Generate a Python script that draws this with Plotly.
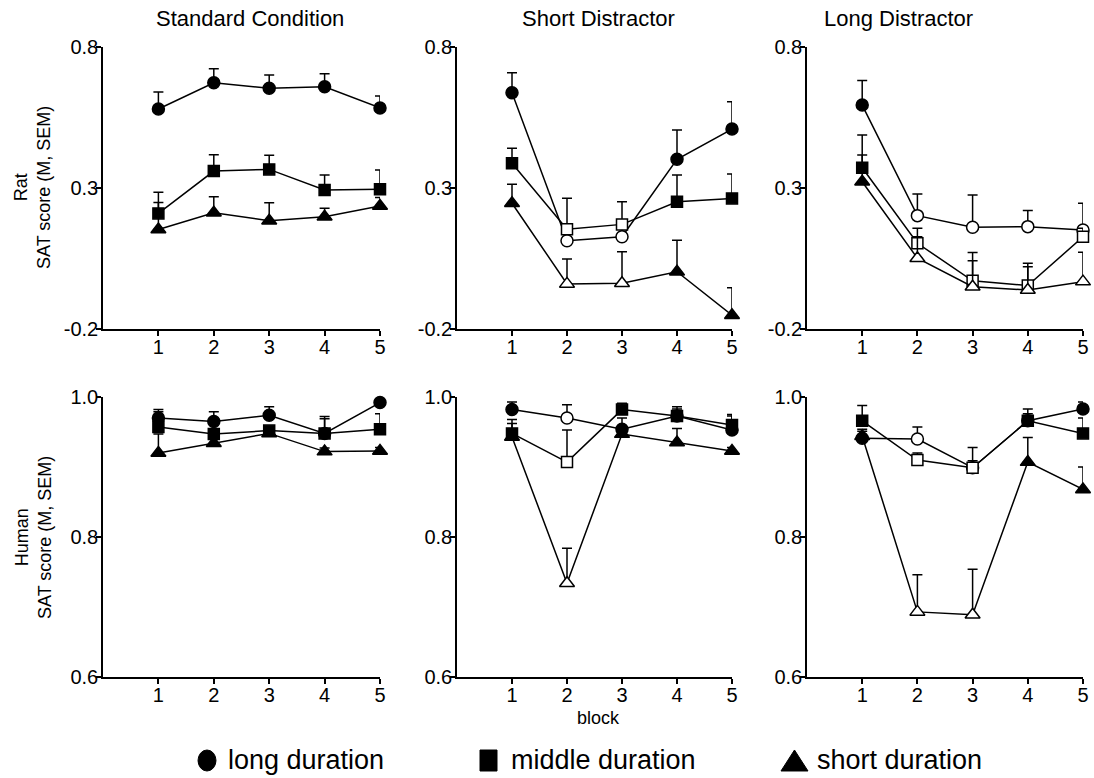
import plotly.graph_objects as go

W, H = 1094, 778

blocks = [1, 2, 3, 4, 5]
block_labels = ["1", "2", "3", "4", "5"]
column_titles = ["Standard Condition", "Short Distractor", "Long Distractor"]
row_titles = ["Rat<br>SAT score (M, SEM)", "Human<br>SAT score (M, SEM)"]
legend_labels = ["long duration", "middle duration", "short duration"]

rat_ticks = [-0.2, 0.3, 0.8]
rat_tick_text = ["-0.2", "0.3", "0.8"]
human_ticks = [0.6, 0.8, 1.0]
human_tick_text = ["0.6", "0.8", "1.0"]

# Rat, standard condition
rat_std_long = [0.580, 0.673, 0.654, 0.659, 0.584]
rat_std_long_sem = [0.060, 0.050, 0.047, 0.046, 0.042]
rat_std_middle = [0.210, 0.360, 0.366, 0.293, 0.296]
rat_std_middle_sem = [0.075, 0.058, 0.050, 0.053, 0.068]
rat_std_short = [0.153, 0.212, 0.184, 0.198, 0.236]
rat_std_short_sem = [0.096, 0.057, 0.064, 0.030, 0.030]

# Rat, short distractor
rat_sd_long = [0.638, 0.113, 0.127, 0.402, 0.509]
rat_sd_long_sem = [0.071, 0.030, 0.030, 0.104, 0.097]
rat_sd_middle = [0.388, 0.154, 0.171, 0.251, 0.263]
rat_sd_middle_sem = [0.053, 0.110, 0.080, 0.095, 0.087]
rat_sd_short = [0.246, -0.040, -0.038, 0.003, -0.151]
rat_sd_short_sem = [0.067, 0.088, 0.112, 0.112, 0.097]

# Rat, long distractor
rat_ld_long = [0.594, 0.202, 0.161, 0.163, 0.151]
rat_ld_long_sem = [0.087, 0.077, 0.114, 0.057, 0.095]
rat_ld_middle = [0.372, 0.104, -0.029, -0.046, 0.127]
rat_ld_middle_sem = [0.116, 0.053, 0.100, 0.079, 0.030]
rat_ld_short = [0.322, 0.051, -0.050, -0.062, -0.032]
rat_ld_short_sem = [0.095, 0.076, 0.092, 0.083, 0.104]

# Human, standard condition
hum_std_long = [0.970, 0.965, 0.974, 0.948, 0.992]
hum_std_long_sem = [0.012, 0.014, 0.012, 0.024, 0.004]
hum_std_middle = [0.957, 0.947, 0.952, 0.948, 0.954]
hum_std_middle_sem = [0.022, 0.006, 0.006, 0.021, 0.022]
hum_std_short = [0.920, 0.934, 0.948, 0.922, 0.923]
hum_std_short_sem = [0.027, 0.006, 0.004, 0.005, 0.005]

# Human, short distractor
hum_sd_long = [0.982, 0.970, 0.954, 0.973, 0.953]
hum_sd_long_sem = [0.011, 0.019, 0.016, 0.010, 0.020]
hum_sd_middle = [0.948, 0.907, 0.982, 0.973, 0.960]
hum_sd_middle_sem = [0.020, 0.046, 0.009, 0.013, 0.015]
hum_sd_short = [0.943, 0.734, 0.947, 0.935, 0.923]
hum_sd_short_sem = [0.019, 0.050, 0.010, 0.020, 0.005]

# Human, long distractor
hum_ld_long = [0.941, 0.940, 0.899, 0.966, 0.983]
hum_ld_long_sem = [0.010, 0.017, 0.010, 0.010, 0.010]
hum_ld_middle = [0.966, 0.910, 0.899, 0.966, 0.948]
hum_ld_middle_sem = [0.022, 0.010, 0.029, 0.017, 0.022]
hum_ld_short = [0.944, 0.693, 0.689, 0.907, 0.868]
hum_ld_short_sem = [0.010, 0.053, 0.065, 0.035, 0.032]

# Blocks with a distractor are drawn with open markers
open_blocks_std = []
open_blocks_rat_sd = [2, 3]
open_blocks_rat_ld = [2, 3, 4, 5]
open_blocks_hum_sd = [2]
open_blocks_hum_ld = [2, 3]

symbols = ["circle", "square", "triangle-up"]
marker_sizes = [12, 11, 13]

panels = [
    # (row, col, series, open blocks)
    (1, 1, [(rat_std_long, rat_std_long_sem), (rat_std_middle, rat_std_middle_sem),
            (rat_std_short, rat_std_short_sem)], open_blocks_std),
    (1, 2, [(rat_sd_long, rat_sd_long_sem), (rat_sd_middle, rat_sd_middle_sem),
            (rat_sd_short, rat_sd_short_sem)], open_blocks_rat_sd),
    (1, 3, [(rat_ld_long, rat_ld_long_sem), (rat_ld_middle, rat_ld_middle_sem),
            (rat_ld_short, rat_ld_short_sem)], open_blocks_rat_ld),
    (2, 1, [(hum_std_long, hum_std_long_sem), (hum_std_middle, hum_std_middle_sem),
            (hum_std_short, hum_std_short_sem)], open_blocks_std),
    (2, 2, [(hum_sd_long, hum_sd_long_sem), (hum_sd_middle, hum_sd_middle_sem),
            (hum_sd_short, hum_sd_short_sem)], open_blocks_hum_sd),
    (2, 3, [(hum_ld_long, hum_ld_long_sem), (hum_ld_middle, hum_ld_middle_sem),
            (hum_ld_short, hum_ld_short_sem)], open_blocks_hum_ld),
]

# Panel placement in pixels
col_px = [(103, 380), (457, 732), (807, 1083)]
row_px = [(47, 329), (397, 677)]

FONT = "Liberation Sans, Arial, sans-serif"


def px_x(px):
    return px / W


def px_y(py):
    return 1 - py / H


fig = go.Figure()

for idx, (row, col, series, open_blocks) in enumerate(panels):
    n = idx + 1
    xa = "x" if n == 1 else f"x{n}"
    ya = "y" if n == 1 else f"y{n}"
    for s, (vals, sems) in enumerate(series):
        fills = ["white" if b in open_blocks else "black" for b in blocks]
        fig.add_trace(go.Scatter(
            x=blocks, y=vals, xaxis=xa, yaxis=ya,
            mode="lines+markers",
            line=dict(color="black", width=1.5),
            marker=dict(symbol=symbols[s], size=marker_sizes[s], color=fills,
                        line=dict(color="black", width=1.5)),
            error_y=dict(type="data", symmetric=False, array=sems,
                         arrayminus=[0] * len(sems), color="black",
                         thickness=1.5, width=5),
            cliponaxis=False, showlegend=False,
        ))

    x0, x1 = col_px[col - 1]
    y0, y1 = row_px[row - 1]
    xkey = "xaxis" if n == 1 else f"xaxis{n}"
    ykey = "yaxis" if n == 1 else f"yaxis{n}"
    axis_common = dict(showline=True, linecolor="black", linewidth=1.5,
                       ticks="outside", ticklen=5, tickwidth=1.5, tickcolor="black",
                       showgrid=False, zeroline=False, automargin=False,
                       tickfont=dict(family=FONT, size=20, color="black"))
    fig.layout[xkey] = dict(domain=[px_x(x0), px_x(x1)], range=[0, 5],
                            tickvals=blocks, ticktext=block_labels,
                            ticklabelstandoff=-6, anchor=ya, **axis_common)
    if row == 1:
        fig.layout[ykey] = dict(domain=[px_y(y1), px_y(y0)], range=[-0.2, 0.8],
                                tickvals=rat_ticks, ticktext=rat_tick_text,
                                ticklabelstandoff=-6, anchor=xa, **axis_common)
    else:
        fig.layout[ykey] = dict(domain=[px_y(y1), px_y(y0)], range=[0.6, 1.0],
                                tickvals=human_ticks, ticktext=human_tick_text,
                                ticklabelstandoff=-6, anchor=xa, **axis_common)

annotations = []
title_centers = [250, 598, 898]
for t, cx in zip(column_titles, title_centers):
    annotations.append(dict(text=t, x=px_x(cx), y=px_y(18), xref="paper", yref="paper",
                            showarrow=False, xanchor="center", yanchor="middle",
                            font=dict(family=FONT, size=22, color="black")))

row_centers = [188, 538]
for t, cy in zip(row_titles, row_centers):
    annotations.append(dict(text=t, x=px_x(33), y=px_y(cy), xref="paper", yref="paper",
                            showarrow=False, textangle=-90, xanchor="center",
                            yanchor="middle",
                            font=dict(family=FONT, size=18, color="black")))

annotations.append(dict(text="block", x=px_x(598), y=px_y(718), xref="paper", yref="paper",
                        showarrow=False, xanchor="center", yanchor="middle",
                        font=dict(family=FONT, size=18, color="black")))

# Legend row: symbol shapes followed by labels
legend_text_x = [226, 509, 815]
for lab, tx in zip(legend_labels, legend_text_x):
    annotations.append(dict(text=lab, x=px_x(tx), y=px_y(760), xref="paper", yref="paper",
                            showarrow=False, xanchor="left", yanchor="middle",
                            font=dict(family=FONT, size=27, color="black")))

sym_top, sym_bot = 750, 771
shapes = [
    dict(type="circle", xref="paper", yref="paper",
         x0=px_x(198), x1=px_x(216), y0=px_y(sym_bot), y1=px_y(sym_top),
         fillcolor="black", line=dict(color="black", width=1)),
    dict(type="rect", xref="paper", yref="paper",
         x0=px_x(480), x1=px_x(497), y0=px_y(sym_bot), y1=px_y(sym_top),
         fillcolor="black", line=dict(color="black", width=1)),
    dict(type="path", xref="paper", yref="paper",
         path=(f"M {px_x(781):.5f},{px_y(sym_bot):.5f} "
               f"L {px_x(808):.5f},{px_y(sym_bot):.5f} "
               f"L {px_x(794.5):.5f},{px_y(sym_top):.5f} Z"),
         fillcolor="black", line=dict(color="black", width=1)),
]

fig.update_layout(
    width=W, height=H,
    margin=dict(l=0, r=0, t=0, b=0, pad=0, autoexpand=False),
    paper_bgcolor="white", plot_bgcolor="white",
    annotations=annotations, shapes=shapes,
    font=dict(family=FONT, color="black"),
)

fig.write_html(
    "out.html",
    post_script="document.body.style.margin='0';document.body.style.overflow='hidden';",
)
